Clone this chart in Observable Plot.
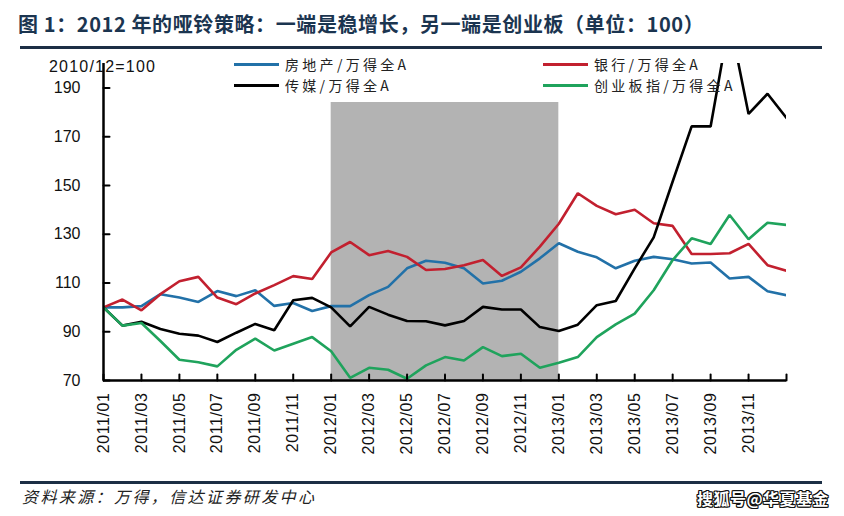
<!DOCTYPE html>
<html>
<head>
<meta charset="utf-8">
<script src="https://cdn.jsdelivr.net/npm/d3@7"></script>
<script src="https://cdn.jsdelivr.net/npm/@observablehq/plot@0.6"></script>
<style>
  body { margin: 0; background: #fff; }
  #wrap { position: relative; width: 844px; height: 516px; overflow: hidden; background: #fff; }
  #chart { position: absolute; left: 0; top: 0; }
  .title { position: absolute; left: 18px; top: 11px; font-family: "Noto Sans CJK SC", sans-serif; font-weight: bold; font-size: 20px; line-height: 26px; color: #1b3550; white-space: nowrap; letter-spacing: 0.6px; }
  .hrule { position: absolute; left: 20px; width: 802px; height: 3px; background: #1c2f45; }
  .unit { position: absolute; left: 49px; top: 57px; font-family: "Liberation Sans", Arial, sans-serif; font-size: 16px; line-height: 20px; color: #111; letter-spacing: 1.2px; white-space: nowrap; }
  .leg { position: absolute; height: 16px; display: flex; align-items: center; white-space: nowrap; }
  .leg .sw { width: 45px; height: 3px; margin-right: 6px; }
  .leg .tx { font-family: "Noto Sans CJK SC", sans-serif; font-size: 14px; line-height: 16px; color: #222; letter-spacing: 3.3px; }
  .foot { position: absolute; left: 22px; top: 486px; font-family: "Noto Sans CJK SC", sans-serif; font-style: italic; font-size: 16px; line-height: 20px; color: #222; letter-spacing: 2.4px; white-space: nowrap; }
  .mark { position: absolute; left: 697px; top: 488px; font-family: "Noto Sans CJK SC", sans-serif; font-weight: bold; font-size: 16px; line-height: 20px; color: #fff; white-space: nowrap; letter-spacing: 0.5px;
          text-shadow: 1px 0 #111, -1px 0 #111, 0 1px #111, 0 -1px #111, 1px 1px #111, -1px -1px #111, 1px -1px #111, -1px 1px #111; }
  #chart [aria-label="x-axis tick label"] text { letter-spacing: 0.6px; }
</style>
</head>
<body>
<div id="wrap">
  <div id="chart"></div>
  <div class="title">图 1：2012 年的哑铃策略：一端是稳增长，另一端是创业板（单位：100）</div>
  <div class="hrule" style="top:46px"></div>
  <div class="unit">2010/12=100</div>
  <div id="legend"></div>
  <div class="hrule" style="top:481px"></div>
  <div class="foot">资料来源：万得，信达证券研发中心</div>
  <div class="mark">搜狐号@华夏基金</div>
</div>
<script>
// ---- data (monthly, relative to Wind All A, 2010/12 = 100) ----
const months = [
  "2011/01","2011/02","2011/03","2011/04","2011/05","2011/06","2011/07","2011/08","2011/09","2011/10","2011/11","2011/12",
  "2012/01","2012/02","2012/03","2012/04","2012/05","2012/06","2012/07","2012/08","2012/09","2012/10","2012/11","2012/12",
  "2013/01","2013/02","2013/03","2013/04","2013/05","2013/06","2013/07","2013/08","2013/09","2013/10","2013/11","2013/12",
  "2014/01"
];
const realEstate = [100, 100, 100.5, 105.4, 104, 102.2, 106.7, 104.6, 107, 100.6, 101.8, 98.5,
  100.5, 100.5, 105, 108.4, 116, 119.1, 118.3, 116, 109.8, 110.9, 114.6, 120.1,
  126.3, 122.8, 120.5, 116, 119.1, 120.7, 119.7, 118, 118.4, 111.8, 112.5, 106.6, 105];
const bank = [100, 103.2, 98.8, 105.4, 110.7, 112.5, 104, 101.3, 105.7, 109.1, 112.8, 111.6,
  122.5, 126.8, 121.4, 123.1, 120.7, 115.3, 115.7, 117.3, 119.4, 112.9, 116.4, 124.9,
  134.3, 146.8, 141.6, 138.2, 140, 134.5, 133.4, 121.9, 121.9, 122.2, 126, 117.3, 115];
const media = [100, 92.5, 94.1, 91.1, 89.2, 88.4, 85.8, 89.6, 93.2, 90.6, 102.9, 103.9,
  100, 92.2, 100.2, 97, 94.4, 94.3, 92.6, 94.4, 100.2, 99.1, 99.1, 91.9,
  90.3, 92.9, 100.9, 102.6, 116, 128.7, 151.6, 174.2, 174.2, 218, 179.3, 187.6, 177.7];
const chinext = [100, 92.5, 93.6, 86.2, 78.5, 77.5, 75.8, 82.6, 87.2, 82.3, 85.1, 87.8,
  82, 71.1, 75.2, 74.4, 70.7, 76.2, 79.6, 78.2, 83.7, 80, 81, 75.2,
  77.3, 79.6, 87.8, 93, 97.4, 107, 119.4, 128.3, 126, 137.9, 127.9, 134.7, 133.8];

const seriesNames = ["房地产/万得全A", "银行/万得全A", "传媒/万得全A", "创业板指/万得全A"];
const seriesColors = ["#2271a8", "#c2202f", "#000000", "#1fa35c"];
const seriesValues = [realEstate, bank, media, chinext];

const xTickLabels = ["2011/01","2011/03","2011/05","2011/07","2011/09","2011/11",
  "2012/01","2012/03","2012/05","2012/07","2012/09","2012/11",
  "2013/01","2013/03","2013/05","2013/07","2013/09","2013/11"];
const xTickMarks = [...xTickLabels, "2014/01"];
const yTicks = [70, 90, 110, 130, 150, 170, 190];
const yDomain = [70, 200];
const shadeFrom = "2012/01", shadeTo = "2013/01", shadeTop = 184;

// ---- build ----
const rows = [];
seriesValues.forEach((vals, s) => vals.forEach((v, i) => rows.push({series: seriesNames[s], i, v})));
const idx = m => months.indexOf(m);
// plain straight tick (no arrowhead) for the vector mark
const stick = {draw(context, l) { context.moveTo(0, 0); context.lineTo(0, -l); }};

const plot = Plot.plot({
  width: 844,
  height: 516,
  marginLeft: 103,
  marginRight: 58,
  marginTop: 63,
  marginBottom: 136,
  style: {fontFamily: "'Liberation Sans', Arial, sans-serif", fontSize: "16px", color: "#111", background: "transparent"},
  x: {type: "linear", domain: [0, months.length - 1], label: null},
  y: {domain: yDomain, label: null},
  color: {domain: seriesNames, range: seriesColors},
  marks: [
    Plot.rect([{from: shadeFrom, to: shadeTo, top: shadeTop}], {
      x1: d => idx(d.from), x2: d => idx(d.to), y1: yDomain[0], y2: d => d.top, fill: "#b3b3b3"
    }),
    Plot.lineY(rows, {x: "i", y: "v", z: "series", stroke: "series", strokeWidth: 2.6, clip: true, strokeLinejoin: "miter"}),
    Plot.ruleY([yDomain[0]], {stroke: "#000", strokeWidth: 2.5}),
    Plot.ruleX([0], {stroke: "#000", strokeWidth: 2.5}),
    Plot.vector(xTickMarks, {x: d => idx(d), frameAnchor: "bottom", length: 6, anchor: "start", rotate: 0, shape: stick, stroke: "#000", strokeWidth: 2}),
    Plot.vector(yTicks, {y: d => d, frameAnchor: "left", length: 6, anchor: "start", rotate: 90, shape: stick, stroke: "#000", strokeWidth: 2}),
    Plot.axisY({ticks: yTicks, tickSize: 0, tickPadding: 23, fontSize: 16, label: null}),
    Plot.axisX({ticks: xTickLabels.map(idx), tickFormat: i => months[i], tickSize: 0, tickPadding: 12, tickRotate: -90, fontSize: 16, label: null})
  ]
});
document.getElementById("chart").appendChild(plot);

// ---- legend ----
const legPos = [[234, 56], [543, 56], [234, 77], [543, 77]];
const legend = document.getElementById("legend");
seriesNames.forEach((name, s) => {
  const el = document.createElement("div");
  el.className = "leg";
  el.style.left = legPos[s][0] + "px";
  el.style.top = legPos[s][1] + "px";
  el.innerHTML = `<span class="sw" style="background:${seriesColors[s]}"></span><span class="tx">${name}</span>`;
  legend.appendChild(el);
});
</script>
</body>
</html>
